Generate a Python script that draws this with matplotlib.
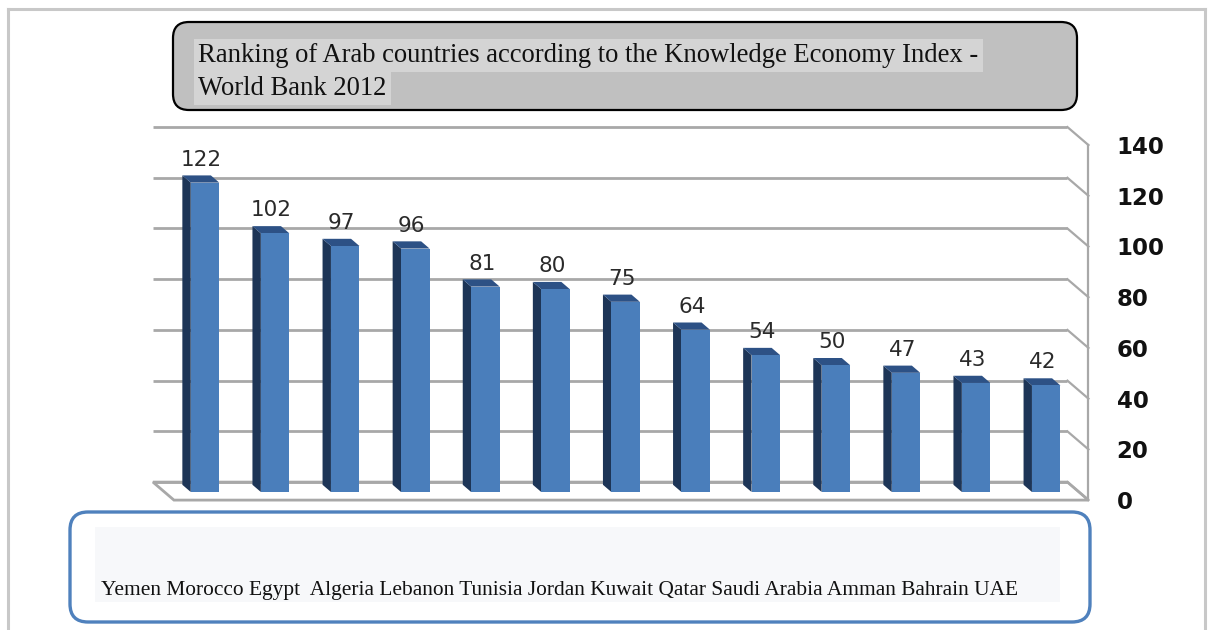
import matplotlib
matplotlib.use("Agg")
import matplotlib.pyplot as plt
from matplotlib.patches import Polygon, FancyBboxPatch, Rectangle

# ---------------- data ----------------
countries = ["Yemen", "Morocco", "Egypt", "Algeria", "Lebanon", "Tunisia", "Jordan",
             "Kuwait", "Qatar", "Saudi Arabia", "Amman", "Bahrain", "UAE"]
values = [122, 102, 97, 96, 81, 80, 75, 64, 54, 50, 47, 43, 42]
ticks = [0, 20, 40, 60, 80, 100, 120, 140]
title_lines = ["Ranking of Arab countries according to the Knowledge Economy Index -",
               "World Bank 2012"]
category_text = "Yemen Morocco Egypt  Algeria Lebanon Tunisia Jordan Kuwait Qatar Saudi Arabia Amman Bahrain UAE"

W, H = 1213, 630
fig = plt.figure(figsize=(W / 100, H / 100), dpi=100)
fig.patch.set_facecolor("white")

# ---------------- chart axes (pixel geometry) ----------------
PX_PER_CAT = 70.1
PX_PER_VAL = 2.536
X0_PX = 205.0      # pixel x of category 0 centre
Y0_PX = 492.0      # pixel y of value 0 at bar front plane
ax_l, ax_r, ax_t, ax_b = 140, 1100, 118, 506
ax = fig.add_axes([ax_l / W, 1 - ax_b / H, (ax_r - ax_l) / W, (ax_b - ax_t) / H])
ax.set_xlim((ax_l - X0_PX) / PX_PER_CAT, (ax_r - X0_PX) / PX_PER_CAT)
ax.set_ylim((Y0_PX - ax_b) / PX_PER_VAL, (Y0_PX - ax_t) / PX_PER_VAL)
ax.patch.set_alpha(0)
for s in ax.spines.values():
    s.set_visible(False)


def off(d):
    """oblique depth offset in data units (positive d = towards the back)"""
    return (-21.0 * d / PX_PER_CAT, 18.0 * d / PX_PER_VAL)


grid_col = "#a8a8a8"
fdx, fdy = off(-0.45)   # front edge
bdx, bdy = off(0.55)    # back wall
xL = (164.5 - X0_PX) / PX_PER_CAT
xR = (1079.0 - X0_PX) / PX_PER_CAT

# floor
floor = Polygon([(xL + bdx, bdy), (xR + bdx, bdy), (xR + fdx, fdy), (xL + fdx, fdy)],
                closed=True, facecolor="white", edgecolor=grid_col, lw=2.0, zorder=1)
ax.add_patch(floor)
# back wall gridlines and side wall lines
for t in ticks:
    ax.plot([xL + bdx, xR + bdx], [t + bdy, t + bdy], color=grid_col, lw=2.0, zorder=1,
            solid_capstyle="butt")
    ax.plot([xR + bdx, xR + fdx], [t + bdy, t + fdy], color=grid_col, lw=1.6, zorder=1)
ax.plot([xR + fdx, xR + fdx], [fdy, ticks[-1] + fdy], color=grid_col, lw=1.6, zorder=1)

# bars (front face + side + top)
bw = 28.5 / PX_PER_CAT
sdx, sdy = off(0.40)
xs = list(range(len(values)))
ax.bar(xs, values, width=bw, color="#4a7ebb", edgecolor="none", zorder=3)
for x, v in zip(xs, values):
    xl = x - bw / 2
    side = Polygon([(xl, 0), (xl, v), (xl + sdx, v + sdy), (xl + sdx, sdy)], closed=True,
                   facecolor="#1d3557", edgecolor="none", zorder=2.5)
    top = Polygon([(xl, v), (xl + bw, v), (xl + bw + sdx, v + sdy), (xl + sdx, v + sdy)],
                  closed=True, facecolor="#2d5185", edgecolor="none", zorder=2.6)
    ax.add_patch(side)
    ax.add_patch(top)
    ax.text(x - 0.05, v + 6.7, str(v), ha="center", va="baseline", fontsize=15.5,
            family="DejaVu Sans", color="#2a2a2a", zorder=4)

# right value axis
ax.set_xticks([])
ax.yaxis.tick_right()
ax.set_yticks([t + fdy for t in ticks])
ax.set_yticklabels([str(t) for t in ticks], fontsize=16.5, fontweight="bold",
                   family="DejaVu Sans", color="#111111")
ax.tick_params(axis="y", length=0, pad=12)

# ---------------- overlay (boxes, texts, border) ----------------
ov = fig.add_axes([0, 0, 1, 1], zorder=5)
ov.set_xlim(0, W)
ov.set_ylim(H, 0)
ov.axis("off")
ov.patch.set_alpha(0)

bc = "#c8c8c8"
ov.plot([8, 1205], [9, 9], color=bc, lw=2.2)
ov.plot([8, 8], [9, H], color=bc, lw=2.2)
ov.plot([1205, 1205], [9, H], color=bc, lw=2.2)

# title box
tb = FancyBboxPatch((173 + 16, 22 + 16), 904 - 32, 88 - 32,
                    boxstyle="round,pad=16,rounding_size=16",
                    facecolor="#c0c0c0", edgecolor="black", lw=1.6)
ov.add_patch(tb)
ov.text(198, 62, title_lines[0], family="Liberation Serif", fontsize=19.2,
        va="baseline", ha="left", color="#111111",
        bbox=dict(facecolor="#d4d4d4", edgecolor="none", pad=3))
ov.text(198, 95, title_lines[1], family="Liberation Serif", fontsize=19.2,
        va="baseline", ha="left", color="#111111",
        bbox=dict(facecolor="#d4d4d4", edgecolor="none", pad=3))

# category box
cb = FancyBboxPatch((70 + 18, 512 + 18), 1020 - 36, 110 - 36,
                    boxstyle="round,pad=18,rounding_size=18",
                    facecolor="white", edgecolor="#4f81bd", lw=2.4)
ov.add_patch(cb)
ov.add_patch(Rectangle((95, 527), 965, 75, facecolor="#f7f8fa", edgecolor="none"))
ov.text(101, 595, category_text, family="Liberation Serif", fontsize=15.4,
        va="baseline", ha="left", color="#111111")

fig.savefig("out.png", dpi=100)
